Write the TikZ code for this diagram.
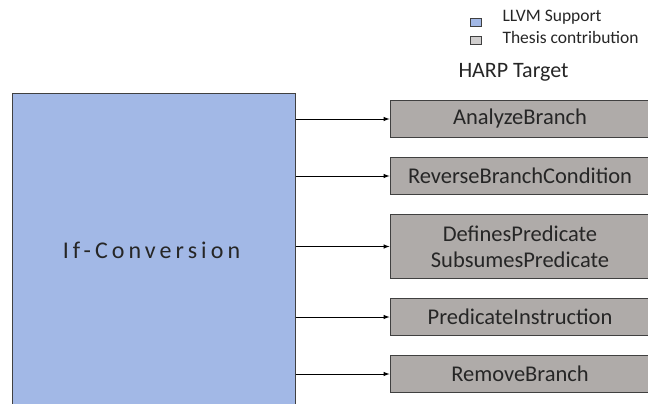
\documentclass[tikz,border=0pt]{standalone}
\usepackage{fontspec}
\setmainfont{Carlito}
\newfontfamily\spacedfont[LetterSpace=17]{Carlito}
\usetikzlibrary{arrows,positioning}
\definecolor{llvmblue}{RGB}{162,184,230}
\definecolor{thesisgray}{RGB}{175,171,169}
\definecolor{legendgray}{RGB}{208,206,206}
\definecolor{edgegray}{RGB}{64,64,64}
\definecolor{txtgray}{RGB}{38,38,38}

\begin{document}
\begin{tikzpicture}[x=1pt,y=-1pt,>=latex,node distance=19pt,
  line width=1pt]
  \tikzstyle{llvm}=[draw=edgegray, fill=llvmblue, text=txtgray,
    minimum width=283pt, minimum height=320pt, inner sep=0pt]
  \tikzstyle{thesis}=[draw=edgegray, fill=thesisgray, text=txtgray,
    minimum width=260pt, minimum height=37pt, inner sep=0pt,
    align=center, font=\fontsize{22.5}{26}\selectfont]
  \tikzstyle{legbox}=[draw=edgegray, line width=0.8pt,
    minimum width=11pt, minimum height=8pt, inner sep=0pt]
  \tikzstyle{legtext}=[text=txtgray, inner sep=0pt,
    font=\fontsize{17.5}{20}\selectfont]

  \useasboundingbox (0,0) rectangle (648,404);
  \clip (0,0) rectangle (648,404);

  % legend
  \node[legbox, fill=llvmblue]   (legllvm)   at (476,22) {};
  \node[legbox, fill=legendgray] (legthesis) at (476,40) {};
  \node[legtext, anchor=west] (txtllvm)   at (502,17) {LLVM Support};
  \node[legtext, anchor=west] (txtthesis) at (502,37) {Thesis contribution};
  \node[text=txtgray, font=\fontsize{22}{24}\selectfont] (harp)
    at (513.5,72) {HARP Target};

  % pass and target hooks
  \node[llvm] (ifconv) at (153.5,253)
    {\hspace*{-4pt}\raisebox{6pt}{\spacedfont\fontsize{24}{28}\selectfont If-Conversion}};
  \node[thesis] (analyze)   at (520,119)        {AnalyzeBranch};
  \node[thesis] (reverse)   [below=of analyze]  {ReverseBranchCondition};
  \node[thesis, minimum height=64pt] (defines) [below=of reverse]
    {DefinesPredicate\\SubsumesPredicate};
  \node[thesis] (predinstr) [below=of defines]  {PredicateInstruction};
  \node[thesis] (remove)    [below=of predinstr] {RemoveBranch};

  \foreach \hook in {analyze,reverse,defines,predinstr,remove}
    \draw[->, black] (ifconv.east |- \hook) -- (\hook);
\end{tikzpicture}
\end{document}
